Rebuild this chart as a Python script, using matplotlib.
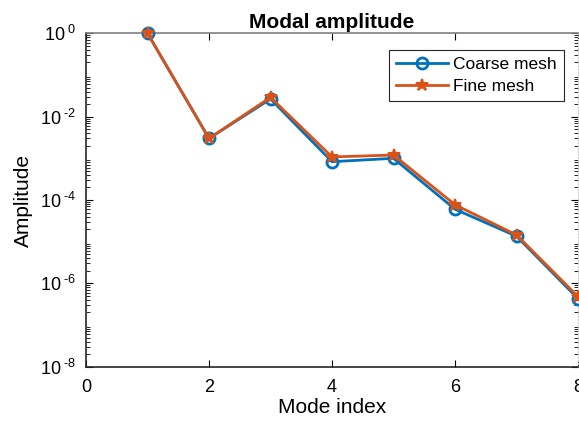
import matplotlib
matplotlib.use("Agg")
import matplotlib.pyplot as plt
from matplotlib.ticker import LogLocator, FixedLocator, NullFormatter

plt.rcParams["font.family"] = ["Liberation Sans", "DejaVu Sans"]
plt.rcParams["mathtext.fontset"] = "custom"
plt.rcParams["mathtext.rm"] = "Liberation Sans"
plt.rcParams["mathtext.it"] = "Liberation Sans:italic"
plt.rcParams["mathtext.bf"] = "Liberation Sans:bold"

modes = [1, 2, 3, 4, 5, 6, 7, 8]
coarse = [1.0, 3.0e-3, 2.66e-2, 8.3e-4, 1.0e-3, 6.0e-5, 1.35e-5, 4.3e-7]
fine = [1.0, 3.0e-3, 2.9e-2, 1.08e-3, 1.2e-3, 7.7e-5, 1.45e-5, 4.8e-7]

x_ticks = [0, 2, 4, 6, 8]
y_ticks = [1e-8, 1e-6, 1e-4, 1e-2, 1e0]
y_labels = [r"$10^{\ \text{-8}}$", r"$10^{\ \text{-6}}$", r"$10^{\ \text{-4}}$",
            r"$10^{\ \text{-2}}$", r"$10^{\ 0}$"]

fig = plt.figure(figsize=(5.79, 4.23), dpi=100)
ax = fig.add_axes([86 / 579, 1 - 366.7 / 423, 492 / 579, (366.7 - 33.3) / 423])

blue = "#0072BD"
orange = "#D95319"
ax.semilogy(modes, coarse, color=blue, lw=2, marker="o", ms=8, mfc="none",
            mew=2, label="Coarse mesh", clip_on=False, zorder=3)
ax.semilogy(modes, fine, color=orange, lw=2, marker="*", ms=9, mew=1.5,
            label="Fine mesh", clip_on=False, zorder=4)

ax.set_xlim(0, 8)
ax.set_ylim(1e-8, 1e0)
ax.xaxis.set_major_locator(FixedLocator(x_ticks))
ax.set_yticks(y_ticks)
ax.set_yticklabels(y_labels)
ax.yaxis.set_minor_locator(LogLocator(base=10, subs=range(2, 10), numticks=20))
ax.yaxis.set_minor_formatter(NullFormatter())

ax.tick_params(which="both", direction="in", top=True, right=True, labelsize=13)
ax.tick_params(which="major", length=5, width=0.8)
ax.tick_params(which="minor", length=3, width=0.6)
ax.tick_params(axis="x", pad=9)
ax.tick_params(axis="y", pad=7)

for side in ("left", "bottom"):
    ax.spines[side].set_color("#262626")
    ax.spines[side].set_linewidth(1.2)
ax.spines["top"].set_color("#808080")
ax.spines["top"].set_linewidth(1.2)
ax.spines["right"].set_color("#cccccc")
ax.spines["right"].set_linestyle(":")

ax.set_xlabel("Mode index", fontsize=15, labelpad=1)
ax.set_ylabel("Amplitude", fontsize=15, labelpad=5)
ax.set_title("Modal amplitude", fontsize=15, fontweight="bold", pad=4)

leg = ax.legend(loc="upper right", bbox_to_anchor=(0.9715, 0.95), fontsize=12.5,
                fancybox=False, edgecolor="#262626", framealpha=1,
                handlelength=3, borderpad=0.4, labelspacing=0.4,
                handletextpad=0.3, borderaxespad=0)
leg.get_frame().set_linewidth(0.8)

fig.savefig("out.png", dpi=100)
